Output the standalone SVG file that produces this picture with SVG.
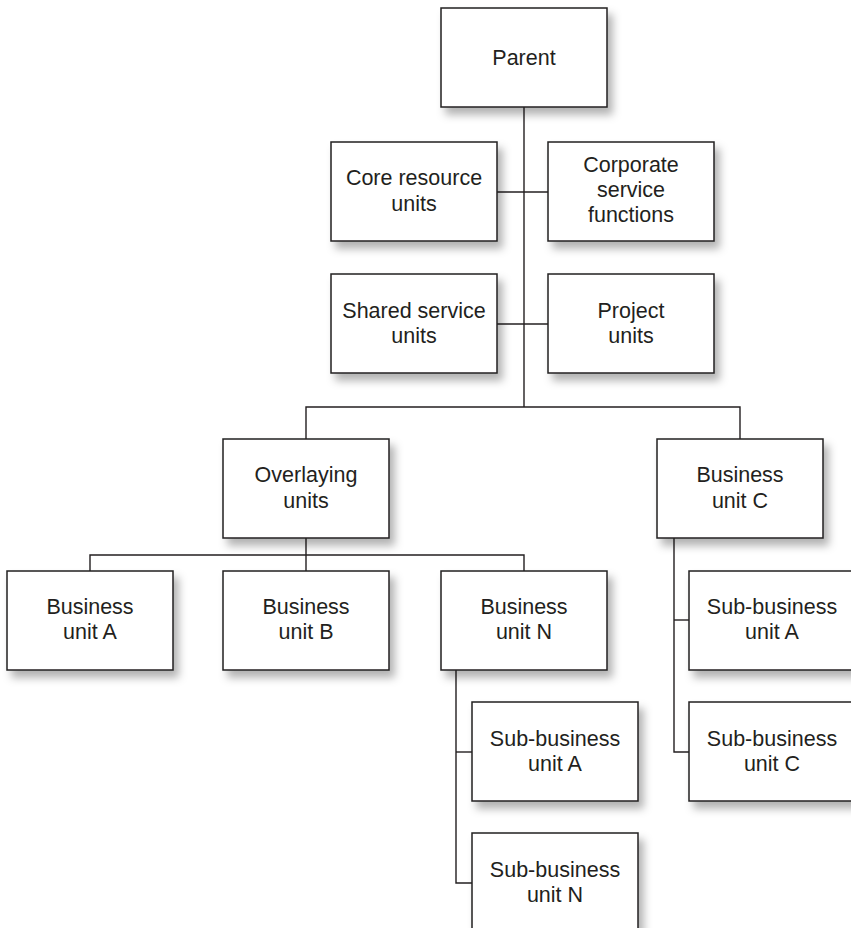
<svg xmlns="http://www.w3.org/2000/svg" width="851" height="928" viewBox="0 0 851 928">
  <style>
    .box { fill: #ffffff; stroke: #231f20; stroke-width: 1.5; filter: url(#shadow); }
    .lbl { font-family: "Liberation Sans", Arial, sans-serif; font-size: 21.5px; fill: #231f20; text-anchor: middle; }
    .conn { fill: none; stroke: #231f20; stroke-width: 1.4; }
  </style>
  <defs>
    <filter id="shadow" x="-10%" y="-10%" width="130%" height="140%">
      <feDropShadow dx="5" dy="7" stdDeviation="4" flood-color="#000" flood-opacity="0.3"/>
    </filter>
  </defs>
  <rect width="851" height="928" fill="#ffffff"/>

  <!-- connectors -->
  <g id="connectors" class="conn">
    <path d="M524 107 V407"/>
    <path d="M497 192 H548"/>
    <path d="M497 324 H548"/>
    <path d="M306 439 V407 H740 V439"/>
    <path d="M306 538 V571"/>
    <path d="M90 571 V555 H524 V571"/>
    <path d="M456 670 V883 H472"/>
    <path d="M456 752 H472"/>
    <path d="M674 538 V752 H689"/>
    <path d="M674 620 H689"/>
  </g>

  <g id="parent">
    <rect class="box" x="441" y="8" width="166" height="99"/>
    <text class="lbl" x="524" y="65">Parent</text>
  </g>
  <g id="core-resource">
    <rect class="box" x="331" y="142" width="166" height="99"/>
    <text class="lbl" x="414" y="185">Core resource</text>
    <text class="lbl" x="414" y="211">units</text>
  </g>
  <g id="corporate-service">
    <rect class="box" x="548" y="142" width="166" height="99"/>
    <text class="lbl" x="631" y="172">Corporate</text>
    <text class="lbl" x="631" y="197">service</text>
    <text class="lbl" x="631" y="222">functions</text>
  </g>
  <g id="shared-service">
    <rect class="box" x="331" y="274" width="166" height="99"/>
    <text class="lbl" x="414" y="318">Shared service</text>
    <text class="lbl" x="414" y="343">units</text>
  </g>
  <g id="project">
    <rect class="box" x="548" y="274" width="166" height="99"/>
    <text class="lbl" x="631" y="318">Project</text>
    <text class="lbl" x="631" y="343">units</text>
  </g>
  <g id="overlaying">
    <rect class="box" x="223" y="439" width="166" height="99"/>
    <text class="lbl" x="306" y="482">Overlaying</text>
    <text class="lbl" x="306" y="508">units</text>
  </g>
  <g id="business-c">
    <rect class="box" x="657" y="439" width="166" height="99"/>
    <text class="lbl" x="740" y="482">Business</text>
    <text class="lbl" x="740" y="508">unit C</text>
  </g>
  <g id="business-a">
    <rect class="box" x="7" y="571" width="166" height="99"/>
    <text class="lbl" x="90" y="614">Business</text>
    <text class="lbl" x="90" y="639">unit A</text>
  </g>
  <g id="business-b">
    <rect class="box" x="223" y="571" width="166" height="99"/>
    <text class="lbl" x="306" y="614">Business</text>
    <text class="lbl" x="306" y="639">unit B</text>
  </g>
  <g id="business-n">
    <rect class="box" x="441" y="571" width="166" height="99"/>
    <text class="lbl" x="524" y="614">Business</text>
    <text class="lbl" x="524" y="639">unit N</text>
  </g>
  <g id="n-sub-a">
    <rect class="box" x="472" y="702" width="166" height="99"/>
    <text class="lbl" x="555" y="746">Sub-business</text>
    <text class="lbl" x="555" y="771">unit A</text>
  </g>
  <g id="n-sub-n">
    <rect class="box" x="472" y="833" width="166" height="99"/>
    <text class="lbl" x="555" y="877">Sub-business</text>
    <text class="lbl" x="555" y="902">unit N</text>
  </g>
  <g id="c-sub-a">
    <rect class="box" x="689" y="571" width="166" height="99"/>
    <text class="lbl" x="772" y="614">Sub-business</text>
    <text class="lbl" x="772" y="639">unit A</text>
  </g>
  <g id="c-sub-c">
    <rect class="box" x="689" y="702" width="166" height="99"/>
    <text class="lbl" x="772" y="746">Sub-business</text>
    <text class="lbl" x="772" y="771">unit C</text>
  </g>
</svg>
